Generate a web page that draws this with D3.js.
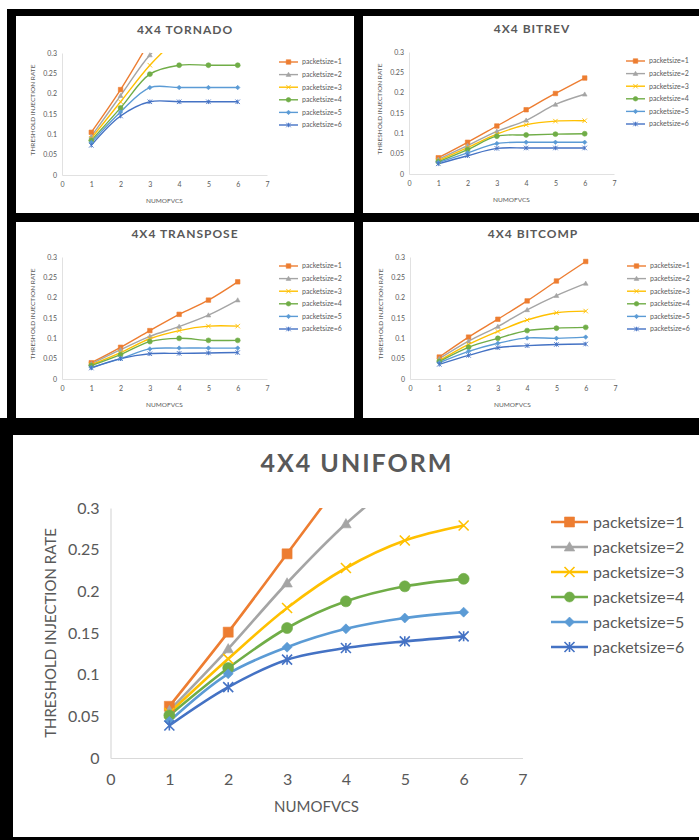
<!DOCTYPE html>
<html>
<head>
<meta charset="utf-8">
<script src="https://cdn.jsdelivr.net/npm/d3@7"></script>
<style>
  body { margin: 0; background: #fff; }
  svg { display: block; }
</style>
</head>
<body>
<div id="chart"></div>
<script>
// ---- data ----
const NUM_VCS = [1, 2, 3, 4, 5, 6];
const SERIES_NAMES = ['packetsize=1', 'packetsize=2', 'packetsize=3', 'packetsize=4', 'packetsize=5', 'packetsize=6'];
const X_TICKS = [0, 1, 2, 3, 4, 5, 6, 7];
const Y_TICKS = [0, 0.05, 0.1, 0.15, 0.2, 0.25, 0.3];

// one array per packet size, values for NUM_VCS (series leaving the top are cut at 0.3)
const TORNADO = [
  [0.105, 0.21, 0.33],
  [0.095, 0.195, 0.295, 0.36],
  [0.09, 0.18, 0.27, 0.34],
  [0.085, 0.165, 0.248, 0.27, 0.27, 0.27],
  [0.08, 0.155, 0.215, 0.215, 0.215, 0.215],
  [0.073, 0.145, 0.18, 0.18, 0.18, 0.18]
];
const BITREV = [
  [0.04, 0.078, 0.118, 0.158, 0.198, 0.236],
  [0.036, 0.07, 0.105, 0.132, 0.171, 0.196],
  [0.033, 0.065, 0.098, 0.121, 0.13, 0.131],
  [0.03, 0.06, 0.093, 0.096, 0.098, 0.099],
  [0.028, 0.052, 0.075, 0.078, 0.078, 0.078],
  [0.025, 0.045, 0.063, 0.064, 0.064, 0.064]
];
const TRANSPOSE = [
  [0.04, 0.078, 0.119, 0.159, 0.194, 0.239],
  [0.037, 0.072, 0.105, 0.129, 0.157, 0.194],
  [0.035, 0.065, 0.099, 0.119, 0.13, 0.13],
  [0.033, 0.06, 0.092, 0.1, 0.095, 0.095],
  [0.028, 0.05, 0.074, 0.076, 0.076, 0.076],
  [0.027, 0.05, 0.062, 0.063, 0.064, 0.065]
];
const BITCOMP = [
  [0.054, 0.103, 0.147, 0.192, 0.241, 0.289],
  [0.05, 0.093, 0.129, 0.17, 0.205, 0.235],
  [0.045, 0.085, 0.117, 0.145, 0.163, 0.167],
  [0.043, 0.078, 0.1, 0.119, 0.125, 0.127],
  [0.04, 0.068, 0.088, 0.101, 0.1, 0.103],
  [0.036, 0.058, 0.077, 0.082, 0.085, 0.086]
];
const UNIFORM = [
  [0.062, 0.151, 0.245, 0.34],
  [0.057, 0.131, 0.21, 0.281, 0.34],
  [0.054, 0.119, 0.18, 0.228, 0.261, 0.279],
  [0.051, 0.108, 0.156, 0.188, 0.206, 0.215],
  [0.044, 0.101, 0.133, 0.155, 0.168, 0.175],
  [0.039, 0.085, 0.118, 0.132, 0.14, 0.146]
];

// Excel 2013 palette
const COLORS = ['#ED7D31', '#A5A5A5', '#FFC000', '#70AD47', '#5B9BD5', '#4472C4'];
const MARKERS = ['square', 'triangle', 'x', 'circle', 'diamond', 'asterisk'];
const TEXT = '#595959';
const AXIS = '#D9D9D9';
const FONT = "Lato, 'Open Sans', sans-serif";

const W = 699, H = 840;

const svg = d3.select('#chart').append('svg')
  .attr('width', W).attr('height', H)
  .attr('viewBox', `0 0 ${W} ${H}`);

// frame: black mat behind the five white chart cards
svg.append('rect').attr('width', W).attr('height', H).attr('fill', '#fff');
svg.append('rect').attr('x', 7).attr('y', 9).attr('width', W - 7).attr('height', 412).attr('fill', '#000');
svg.append('rect').attr('x', 0).attr('y', 418).attr('width', W).attr('height', H - 418).attr('fill', '#000');

/** marker path centred on 0,0, s = full width */
function markerPath(type, s) {
  const h = s / 2;
  switch (type) {
    case 'square':   return `M${-h},${-h}h${s}v${s}h${-s}Z`;
    case 'triangle': return `M0,${-h * 1.05}L${h * 1.05},${h * 0.8}L${-h * 1.05},${h * 0.8}Z`;
    case 'diamond':  return `M0,${-h}L${h},0L0,${h}L${-h},0Z`;
    case 'circle':   return `M${h},0A${h},${h} 0 1,1 ${-h},0A${h},${h} 0 1,1 ${h},0Z`;
    case 'x':        return `M${-h},${-h}L${h},${h}M${-h},${h}L${h},${-h}`;
    case 'asterisk': return `M${-h},${-h}L${h},${h}M${-h},${h}L${h},${-h}M0,${-h}L0,${h}`;
  }
}
const isStroke = t => t === 'x' || t === 'asterisk';

function drawMarker(g, type, color, cx, cy, size, sw) {
  g.append('path')
    .attr('transform', `translate(${cx},${cy})`)
    .attr('d', markerPath(type, size))
    .attr('fill', isStroke(type) ? 'none' : color)
    .attr('stroke', color)
    .attr('stroke-width', isStroke(type) ? sw : 0.6);
}

let clipId = 0;

function drawChart(o) {
  const g = svg.append('g');

  // white card
  g.append('rect')
    .attr('x', o.card[0]).attr('y', o.card[1])
    .attr('width', o.card[2] - o.card[0]).attr('height', o.card[3] - o.card[1])
    .attr('fill', '#fff');

  const x = d3.scaleLinear().domain([0, 7]).range([o.x0, o.x7]);
  const y = d3.scaleLinear().domain([0, 0.3]).range([o.y0, o.yTop]);

  // title
  g.append('text')
    .attr('x', o.titleX).attr('y', o.titleY)
    .attr('text-anchor', 'middle').attr('dy', '0.35em')
    .style('font-family', FONT).style('font-weight', 700)
    .style('font-size', o.titleSize + 'px')
    .style('letter-spacing', o.titleSpacing + 'px')
    .style('fill', TEXT)
    .text(o.title);

  // axes
  const yAxis = g.append('g')
    .attr('transform', `translate(${o.x0},0)`)
    .call(d3.axisLeft(y).tickValues(Y_TICKS).tickSize(0).tickPadding(o.padY).tickFormat(d3.format('~g')));
  const xAxis = g.append('g')
    .attr('transform', `translate(0,${o.y0})`)
    .call(d3.axisBottom(x).tickValues(X_TICKS).tickSize(0).tickPadding(o.padX).tickFormat(d3.format('d')));
  [yAxis, xAxis].forEach(ax => {
    ax.select('.domain').attr('stroke', AXIS).attr('stroke-width', o.small ? 0.8 : 1.2);
    ax.selectAll('text')
      .style('font-family', FONT)
      .style('font-size', o.tickSize + 'px')
      .style('fill', TEXT);
  });

  // axis titles
  g.append('text')
    .attr('transform', `translate(${o.yTitleX},${o.yTitleY}) rotate(-90)`)
    .attr('text-anchor', 'middle').attr('dy', '0.35em')
    .style('font-family', FONT).style('font-size', o.axisTitleSize + 'px')
    .style('fill', TEXT)
    .text('THRESHOLD INJECTION RATE');
  g.append('text')
    .attr('x', (o.x0 + o.x7) / 2).attr('y', o.xTitleY)
    .attr('text-anchor', 'middle').attr('dy', '0.35em')
    .style('font-family', FONT).style('font-size', o.axisTitleSize + 'px')
    .style('fill', TEXT)
    .text('NUMOFVCS');

  // plot area clip (Excel cuts lines at the axis max)
  const id = 'clip' + (clipId++);
  g.append('clipPath').attr('id', id)
    .append('rect')
    .attr('x', o.x0).attr('y', o.yTop)
    .attr('width', o.x7 - o.x0).attr('height', o.y0 - o.yTop + 20);

  const line = d3.line()
    .x((d, i) => x(NUM_VCS[i]))
    .y(d => y(d))
    .curve(d3.curveCatmullRom.alpha(0.5));

  const plot = g.append('g').attr('clip-path', `url(#${id})`);
  o.data.forEach((vals, s) => {
    plot.append('path')
      .attr('d', line(vals))
      .attr('fill', 'none')
      .attr('stroke', COLORS[s])
      .attr('stroke-width', o.lineW)
      .attr('stroke-linejoin', 'round');
  });
  const marks = g.append('g');
  o.data.forEach((vals, s) => {
    vals.forEach((v, i) => {
      if (v > 0.3) return;
      drawMarker(marks, MARKERS[s], COLORS[s], x(NUM_VCS[i]), y(v), o.markerSize * (MARKERS[s] === 'circle' ? 1.1 : 1), o.markerStroke);
    });
  });

  // legend
  const lg = g.append('g');
  SERIES_NAMES.forEach((name, s) => {
    const ly = o.legendY + s * o.legendStep;
    lg.append('line')
      .attr('x1', o.legendX1).attr('x2', o.legendX2)
      .attr('y1', ly).attr('y2', ly)
      .attr('stroke', COLORS[s]).attr('stroke-width', o.lineW);
    drawMarker(lg, MARKERS[s], COLORS[s], (o.legendX1 + o.legendX2) / 2, ly, o.markerSize, o.markerStroke);
    lg.append('text')
      .attr('x', o.legendTextX).attr('y', ly).attr('dy', '0.35em')
      .style('font-family', FONT).style('font-size', o.legendSize + 'px')
      .style('fill', TEXT)
      .text(name);
  });
}

// layout of a small card, from the position of its (0,0) corner
function smallLayout(title, data, card, x0, y0) {
  return {
    small: true, title, data, card,
    x0, x7: x0 + 205, y0, yTop: y0 - 122,
    titleX: x0 + 123, titleY: y0 - 145, titleSize: 12, titleSpacing: 1,
    tickSize: 7, padY: 5, padX: 7,
    axisTitleSize: 6.5, yTitleX: x0 - 29, yTitleY: y0 - 65, xTitleY: y0 + 26,
    lineW: 1.4, markerSize: 4.5, markerStroke: 0.9,
    legendX1: x0 + 217, legendX2: x0 + 236, legendTextX: x0 + 240,
    legendY: y0 - 113, legendStep: 12.6, legendSize: 7
  };
}

drawChart(smallLayout('4X4 TORNADO', TORNADO, [16, 16, 354, 213], 62, 175));
drawChart(smallLayout('4X4 BITREV', BITREV, [363, 16, 699, 213], 409, 174));
drawChart(smallLayout('4X4 TRANSPOSE', TRANSPOSE, [16, 222, 354, 418], 62, 379));
drawChart(smallLayout('4X4 BITCOMP', BITCOMP, [363, 222, 699, 418], 410, 379));

drawChart({
  small: false, title: '4X4 UNIFORM', data: UNIFORM, card: [13, 435, 699, 837],
  x0: 110.5, x7: 522.5, y0: 758, yTop: 508,
  titleX: 357, titleY: 463, titleSize: 25, titleSpacing: 2,
  tickSize: 16, padY: 11, padX: 16,
  axisTitleSize: 15, yTitleX: 51, yTitleY: 633, xTitleY: 807,
  lineW: 2.6, markerSize: 10, markerStroke: 1.6,
  legendX1: 551, legendX2: 588, legendTextX: 593,
  legendY: 522, legendStep: 25, legendSize: 16
});
</script>
</body>
</html>
